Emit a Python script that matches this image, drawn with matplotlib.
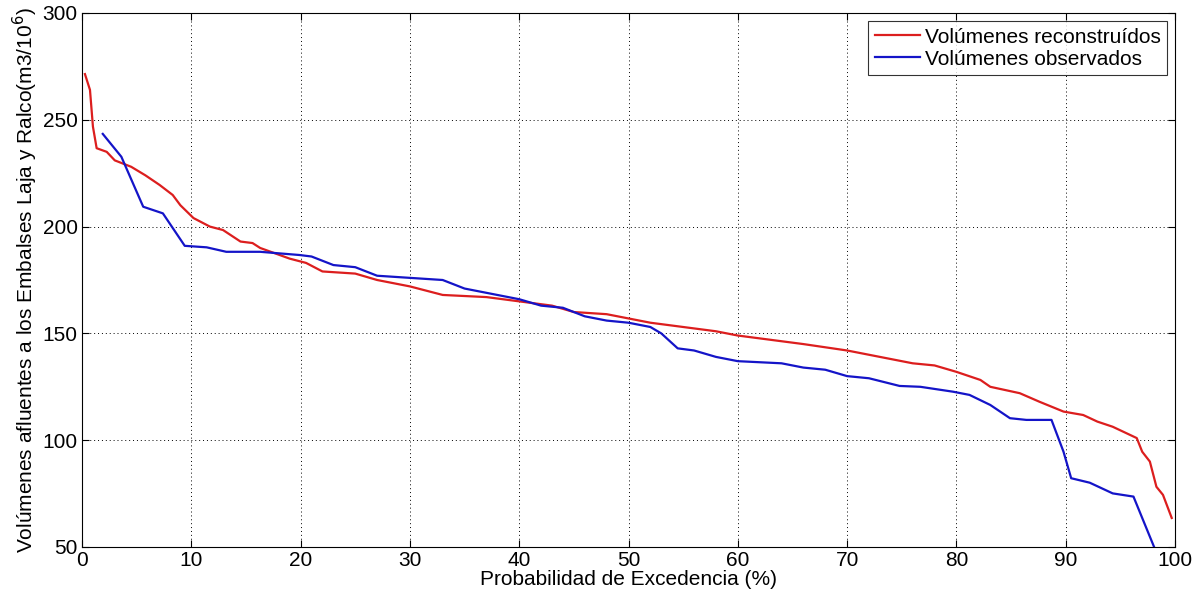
import numpy as np
import matplotlib
matplotlib.use('Agg')
import matplotlib.pyplot as plt

plt.rcParams['font.family'] = ['Liberation Sans', 'DejaVu Sans']

# curva reconstruida (prob. excedencia %, volumen)
x_rec = [0.27, 0.73, 1.0, 1.34, 2.26, 3.0, 4.5, 5.8, 7.1, 8.3, 9.0, 10.2, 11.7, 12.9, 14.5,
         15.6, 16.3, 19.0, 20.5, 22.0, 25.0, 27.0, 30.0, 33.0, 37.0, 40.0, 43.0, 45.0, 48.0,
         50.0, 52.0, 55.0, 58.0, 60.0, 63.0, 66.0, 70.0, 73.0, 76.0, 78.0, 80.0, 82.2, 83.1,
         85.8, 87.6, 89.8, 91.6, 92.9, 94.3, 96.5, 97.0, 97.7, 98.3, 98.9, 99.7]
y_rec = [271.4, 264, 246.8, 236.7, 235, 231, 228, 224, 219.5, 214.8, 210, 204, 200, 198.4, 193,
         192.3, 190, 185, 183, 179, 178, 175, 172, 168, 167, 165, 163, 160, 159,
         157, 155, 153, 151, 149, 147, 145, 142, 139, 136, 135, 132, 128.2, 125,
         122, 118, 113.4, 111.8, 108.7, 106.3, 101, 94.6, 90, 78.2, 74.4, 63.6]

# curva observada
x_obs = [1.9, 3.6, 5.6, 7.4, 9.4, 11.4, 13.2, 16.3, 19.9, 21.0, 23.0, 25.0, 27.0, 30.0, 33.0,
         35.0, 38.0, 40.0, 42.0, 44.0, 46.0, 48.0, 50.0, 52.0, 53.0, 54.5, 56.0, 58.0, 60.0,
         64.0, 66.0, 68.0, 70.0, 72.0, 74.8, 76.7, 79.7, 81.2, 83.1, 84.9, 86.4, 88.7, 89.8,
         90.5, 92.2, 94.3, 96.2, 98.2]
y_obs = [243.4, 232.7, 209.3, 206.2, 191, 190.3, 188.2, 188.2, 186.7, 186, 182, 181, 177, 176, 175,
         171, 168, 166, 163, 162, 158, 156, 155, 153, 150, 143, 142, 139, 137,
         136, 134, 133, 130, 129, 125.4, 125, 122.7, 121.2, 116.5, 110.3, 109.5, 109.5, 94.6,
         82.2, 80.1, 75.1, 73.6, 48.6]

fig = plt.figure(figsize=(12.04, 6.04), dpi=100)
ax = fig.add_axes([82 / 1204, 1 - 547 / 604, (1175 - 82) / 1204, (547 - 13) / 604])

ax.plot(x_rec, y_rec, color='#dc1e1e', lw=1.6, label='Volúmenes reconstruídos')
ax.plot(x_obs, y_obs, color='#1414c8', lw=1.6, label='Volúmenes observados')

ax.set_xlim(0, 100)
ax.set_ylim(50, 300)
ax.set_xticks(np.arange(0, 101, 10))
ax.set_yticks(np.arange(50, 301, 50))
ax.grid(True, color='black', linestyle=(0, (1, 3)), lw=0.7)
ax.tick_params(direction='in', top=True, right=True, labelsize=15, length=5, pad=3)
for s in ax.spines.values():
    s.set_linewidth(0.8)

ax.set_xlabel('Probabilidad de Excedencia (%)', fontsize=15, labelpad=0)
ax.set_ylabel('Volúmenes afluentes a los Embalses Laja y Ralco(m3/10$^6$)', fontsize=15, labelpad=2)

leg = ax.legend(loc='upper right', fontsize=15, frameon=True, fancybox=False, handlelength=2.2,
                handletextpad=0.2, borderpad=0.3, labelspacing=0.15, borderaxespad=0.4)
leg.get_frame().set_edgecolor('black')
leg.get_frame().set_linewidth(0.8)

fig.savefig('out.png', dpi=100)
